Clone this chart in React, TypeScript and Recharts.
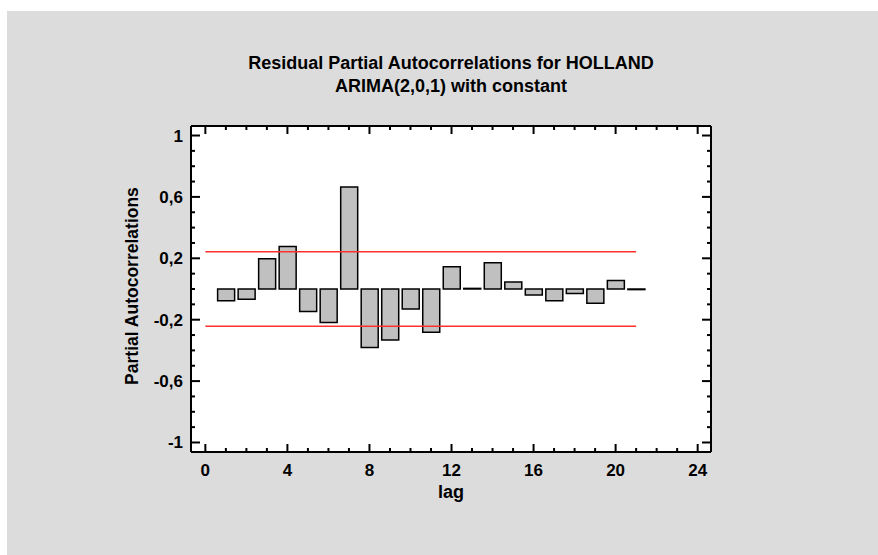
import React from "react";
import {
  ComposedChart,
  Bar,
  XAxis,
  YAxis,
  CartesianGrid,
  ReferenceLine,
} from "recharts";

const lags = [1, 2, 3, 4, 5, 6, 7, 8, 9, 10, 11, 12, 13, 14, 15, 16, 17, 18, 19, 20, 21];
const pacf = [
  -0.076, -0.067, 0.197, 0.277, -0.147, -0.219, 0.664, -0.381, -0.333, -0.13, -0.281,
  0.145, 0.004, 0.171, 0.045, -0.039, -0.076, -0.03, -0.093, 0.056, -0.004,
];
const limit = 0.243;
const limitStart = 0;
const limitEnd = 21;
const xTicks = Array.from({ length: 25 }, (_, i) => i);
const xMajor = [0, 4, 8, 12, 16, 20, 24];
const yTicks = [-1, -0.9, -0.8, -0.7, -0.6, -0.5, -0.4, -0.3, -0.2, -0.1, 0, 0.1, 0.2, 0.3, 0.4, 0.5, 0.6, 0.7, 0.8, 0.9, 1];
const yMajor = [-1, -0.6, -0.2, 0.2, 0.6, 1];
const xDomain: [number, number] = [-0.7, 24.65];
const yDomain: [number, number] = [-1.062, 1.062];

const data = lags.map((lag, i) => ({ lag, value: pacf[i] }));

const FONT = "'Liberation Sans', Arial, Helvetica, sans-serif";

const isMajor = (list: number[], v: number) => list.some((m) => Math.abs(m - v) < 1e-9);
const fmt = (v: number) => String(v).replace(".", ",");

const BottomTick = (props: any) => {
  const { x, y, payload } = props;
  const major = isMajor(xMajor, payload.value);
  return (
    <g>
      <line x1={x} x2={x} y1={y} y2={y - (major ? 8 : 4)} stroke="#000" strokeWidth={2} />
      {major && (
        <text x={x} y={y + 24} textAnchor="middle" fontFamily={FONT} fontWeight="bold" fontSize={17} fill="#000">
          {payload.value}
        </text>
      )}
    </g>
  );
};

const TopTick = (props: any) => {
  const { x, y, payload } = props;
  const major = isMajor(xMajor, payload.value);
  return <line x1={x} x2={x} y1={y} y2={y + (major ? 8 : 4)} stroke="#000" strokeWidth={2} />;
};

const LeftTick = (props: any) => {
  const { x, y, payload } = props;
  const major = isMajor(yMajor, payload.value);
  return (
    <g>
      <line x1={x} x2={x + (major ? 9 : 4)} y1={y} y2={y} stroke="#000" strokeWidth={2} />
      {major && (
        <text x={x - 8} y={y + 6} textAnchor="end" fontFamily={FONT} fontWeight="bold" fontSize={17} fill="#000">
          {fmt(payload.value)}
        </text>
      )}
    </g>
  );
};

const RightTick = (props: any) => {
  const { x, y, payload } = props;
  const major = isMajor(yMajor, payload.value);
  return <line x1={x} x2={x - (major ? 9 : 4)} y1={y} y2={y} stroke="#000" strokeWidth={2} />;
};

export default function App() {
  return (
    <div
      style={{
        position: "absolute",
        left: 7,
        top: 11,
        width: 871,
        height: 544,
        background: "#dcdcdc",
      }}
    >
      <ComposedChart
        width={871}
        height={544}
        data={data}
        margin={{ top: 105, right: 157, bottom: 73, left: 124 }}
      >
        <CartesianGrid fill="#ffffff" horizontal={false} vertical={false} />
        <XAxis
          dataKey="lag"
          type="number"
          domain={xDomain}
          allowDataOverflow
          ticks={xTicks}
          interval={0}
          tickSize={0}
          tickMargin={0}
          height={30}
          tick={<BottomTick />}
          axisLine={{ stroke: "#000", strokeWidth: 2 }}
          tickLine={false}
        />
        <XAxis
          xAxisId="top"
          orientation="top"
          dataKey="lag"
          type="number"
          domain={xDomain}
          allowDataOverflow
          ticks={xTicks}
          interval={0}
          tickSize={0}
          tickMargin={0}
          height={10}
          tick={<TopTick />}
          axisLine={{ stroke: "#000", strokeWidth: 2 }}
          tickLine={false}
        />
        <YAxis
          type="number"
          domain={yDomain}
          allowDataOverflow
          ticks={yTicks}
          interval={0}
          tickSize={0}
          tickMargin={0}
          width={60}
          tick={<LeftTick />}
          axisLine={{ stroke: "#000", strokeWidth: 2 }}
          tickLine={false}
        />
        <YAxis
          yAxisId="right"
          orientation="right"
          type="number"
          domain={yDomain}
          allowDataOverflow
          ticks={yTicks}
          interval={0}
          tickSize={0}
          tickMargin={0}
          width={10}
          tick={<RightTick />}
          axisLine={{ stroke: "#000", strokeWidth: 2 }}
          tickLine={false}
        />
        <ReferenceLine
          segment={[
            { x: limitStart, y: limit },
            { x: limitEnd, y: limit },
          ]}
          stroke="#ff3030"
          strokeWidth={1.5}
        />
        <ReferenceLine
          segment={[
            { x: limitStart, y: -limit },
            { x: limitEnd, y: -limit },
          ]}
          stroke="#ff3030"
          strokeWidth={1.5}
        />
        <Bar
          dataKey="value"
          barSize={17}
          fill="#c0c0c0"
          stroke="#000"
          strokeWidth={1.5}
          isAnimationActive={false}
        />
      </ComposedChart>
      <svg
        width={871}
        height={544}
        style={{ position: "absolute", left: 0, top: 0, pointerEvents: "none" }}
      >
        <g fontFamily={FONT} fontWeight="bold" fill="#000" textAnchor="middle">
          <text x={444} y={58} fontSize={18}>
            Residual Partial Autocorrelations for HOLLAND
          </text>
          <text x={444} y={81} fontSize={18}>
            ARIMA(2,0,1) with constant
          </text>
          <text x={444} y={487} fontSize={18}>
            lag
          </text>
          <text x={130.5} y={275} fontSize={17.5} transform="rotate(-90 130.5 275)">
            Partial Autocorrelations
          </text>
        </g>
      </svg>
    </div>
  );
}
